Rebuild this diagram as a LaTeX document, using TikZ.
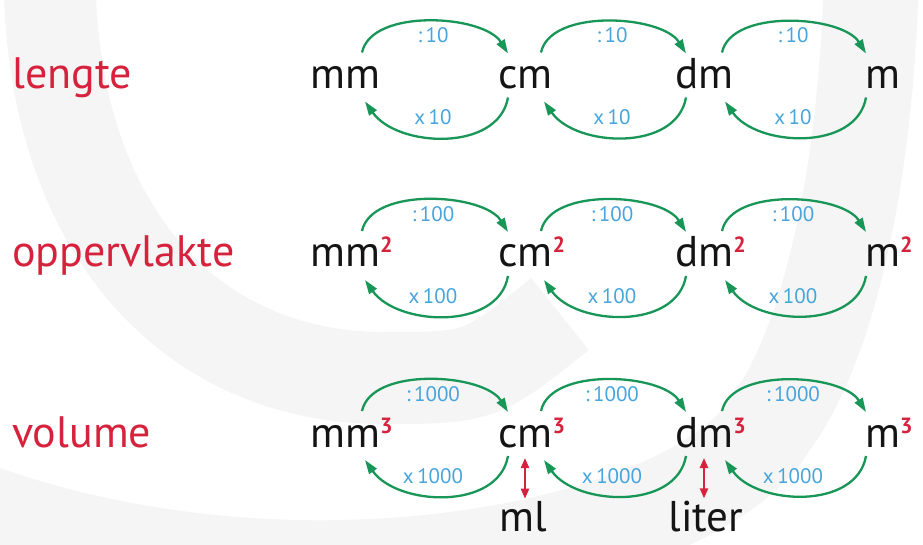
\documentclass[tikz,border=0pt]{standalone}
\usepackage{fontspec}
\setmainfont{PT Sans}
\usetikzlibrary{arrows.meta}
\definecolor{arcgreen}{RGB}{24,150,88}
\definecolor{lblblue}{RGB}{70,165,220}
\definecolor{qred}{RGB}{214,34,60}
\definecolor{wmgray}{RGB}{245,245,245}
\newcommand\unitpow[1]{\textcolor{qred}{\fontsize{22}{22}\selectfont\bfseries\raisebox{14pt}{#1}}}
\begin{document}
\begin{tikzpicture}[x=1pt,y=1pt,
  unit/.style={anchor=base west,inner sep=0pt,font=\fontsize{43}{43}\selectfont,text=black!92},
  qty/.style={anchor=base west,inner sep=0pt,font=\fontsize{44}{44}\selectfont,text=qred},
  lbl/.style={inner sep=0pt,font=\fontsize{21}{21}\selectfont,text=lblblue},
  conv/.style={draw=arcgreen,line width=2.3pt,-{Triangle[length=14pt,width=9pt]}},
  eqarr/.style={draw=qred,line width=2.2pt,{Triangle[length=10pt,width=8pt]}-{Triangle[length=10pt,width=8pt]}},
  wm/.style={draw=wmgray,line cap=butt},
]
\useasboundingbox (0,0) rectangle (923,544);
\fill[white] (0,0) rectangle (923,544);
% watermark
\draw[wm,line width=92pt] (50,600) .. controls (40,330) and (180,168) .. (380,166) .. controls (480,166) .. (560,230);
\draw[wm,line width=95pt] (872,600) .. controls (870,380) and (830,200) .. (770,120) .. controls (700,0) and (300,-90) .. (-40,40);
% row labels
\node[qty] (q1) at (12,455.5) {lengte};
\node[qty] (q2) at (12,277) {oppervlakte};
\node[qty] (q3) at (12,97) {volume};
% units
\node[unit] (u11) at (310,455.5) {mm};
\node[unit] (u12) at (498,455.5) {cm};
\node[unit] (u13) at (675,455.5) {dm};
\node[unit] (u14) at (865,455.5) {m};
\node[unit] (u21) at (310,277) {mm\unitpow{2}};
\node[unit] (u22) at (498,277) {cm\unitpow{2}};
\node[unit] (u23) at (675,277) {dm\unitpow{2}};
\node[unit] (u24) at (865,277) {m\unitpow{2}};
\node[unit] (u31) at (310,97) {mm\unitpow{3}};
\node[unit] (u32) at (498,97) {cm\unitpow{3}};
\node[unit] (u33) at (675,97) {dm\unitpow{3}};
\node[unit] (u34) at (865,97) {m\unitpow{3}};
\node[unit,anchor=base] (ml) at (523,13) {ml};
\node[unit,anchor=base] (liter) at (706,13) {liter};
% conversion arcs
\foreach \r/\f in {1/10,2/100,3/1000}{
  \foreach \p/\q/\sx/\ex/\lx in {1/2/52/10/433,2/3/43/11/612,3/4/47/1/793}{
    \draw[conv] ([shift={(\sx,36)}]u\r\p.base west) to[out=78,in=122,looseness=0.8] ([shift={(\ex,35)}]u\r\q.base west);
    \draw[conv] ([shift={(\ex,-9)}]u\r\q.base west) to[out=-100,in=-55] ([shift={(\sx+3,-13)}]u\r\p.base west);
    \node[lbl] (t\r\p) at ([shift={(\lx,53)}]u\r1.base west -| 0,0) {:\,\f};
    \node[lbl] (b\r\p) at ([shift={(\lx,-29)}]u\r1.base west -| 0,0) {x\,\f};
  }
}
% equivalences
\draw[eqarr] ([xshift=2pt,yshift=2pt]ml.north) -- ([xshift=2pt,yshift=-11pt]ml.north |- u32.base);
\draw[eqarr] ([xshift=-2pt,yshift=2pt]liter.north) -- ([xshift=-2pt,yshift=-11pt]liter.north |- u33.base);
\end{tikzpicture}
\end{document}
